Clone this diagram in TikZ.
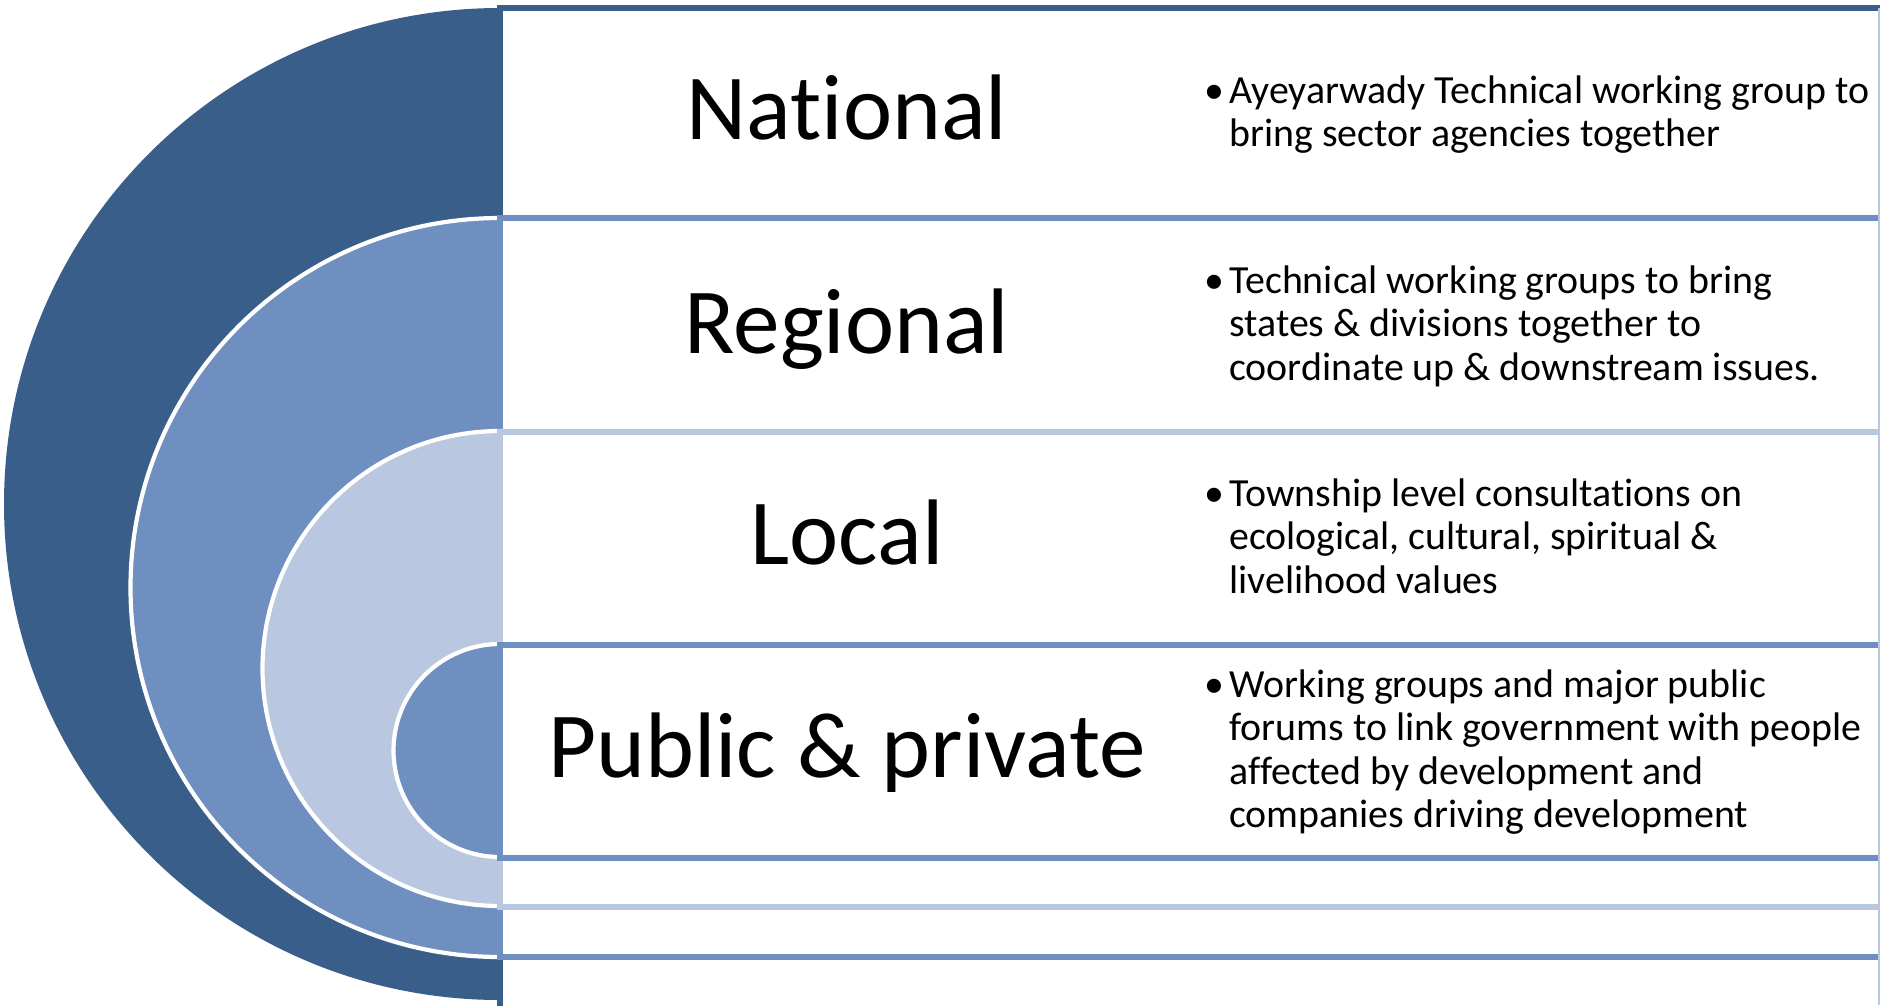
\documentclass[tikz,border=0pt]{standalone}
\usepackage{fontspec}
\setmainfont{Carlito}[Ligatures={TeX,NoCommon}]
\definecolor{dkb}{RGB}{58,94,138}
\definecolor{mdb}{RGB}{111,143,192}
\definecolor{ltb}{RGB}{186,199,224}
\begin{document}
\begin{tikzpicture}[x=0.02cm,y=-0.02cm,
  band/.style={fill=white, line width=3pt},
  disk/.style={draw=white, line width=2.4pt},
  big/.style={font=\fontsize{53}{63}\selectfont, inner sep=0pt, anchor=base},
  bul/.style={font=\fontsize{22.7}{24.8}\selectfont, inner sep=0pt, anchor=base west},
]
\useasboundingbox (0,0) rectangle (1880,1005);
\begin{scope}
\clip (0,0) rectangle (1880,1005);
% national
\fill[dkb] (500,8) arc[start angle=270, end angle=90, radius=496] -- cycle;
\filldraw[band, draw=dkb] (1890,8) -- (500,8) -- (500,1030) -- (1890,1030);
% regional
\filldraw[disk, fill=mdb] (500,218) arc[start angle=270, end angle=90, radius=369.5] -- cycle;
\filldraw[band, draw=mdb] (1890,218) -- (500,218) -- (500,957) -- (1890,957);
% local
\filldraw[disk, fill=ltb] (500,431) arc[start angle=270, end angle=90, radius=237.5] -- cycle;
\filldraw[band, draw=ltb] (1890,432) -- (500,432) -- (500,907) -- (1890,907);
% public & private
\filldraw[disk, fill=mdb] (500,644) arc[start angle=270, end angle=90, radius=106.5] -- cycle;
\filldraw[band, draw=mdb] (1890,645) -- (500,645) -- (500,858) -- (1890,858);
\draw[ltb, line width=0.8pt] (1879,8) -- (1879,1005);
\end{scope}
\node[big] (nat) at (847,139) {National};
\node[big] (reg) at (847,353) {Regional};
\node[big] (loc) at (847,564) {Local};
\node[big] (pub) at (847,777) {Public \& private};
\node[bul] (b1) at (1204,103) {•};
\node[bul] (t1) at (1229,103) {\parbox[t]{20cm}{Ayeyarwady Technical working group to\\bring sector agencies together}};
\node[bul] (b2) at (1204,293) {•};
\node[bul] (t2) at (1229,293) {\parbox[t]{20cm}{Technical working groups to bring\\states \& divisions together to\\coordinate up \& downstream issues.}};
\node[bul] (b3) at (1204,506) {•};
\node[bul] (t3) at (1229,506) {\parbox[t]{20cm}{Township level consultations on\\ecological, cultural, spiritual \&\\livelihood values}};
\node[bul] (b4) at (1204,697) {•};
\node[bul] (t4) at (1229,697) {\parbox[t]{20cm}{Working groups and major public\\forums to link government with people\\affected by development and\\companies driving development}};
\end{tikzpicture}
\end{document}
